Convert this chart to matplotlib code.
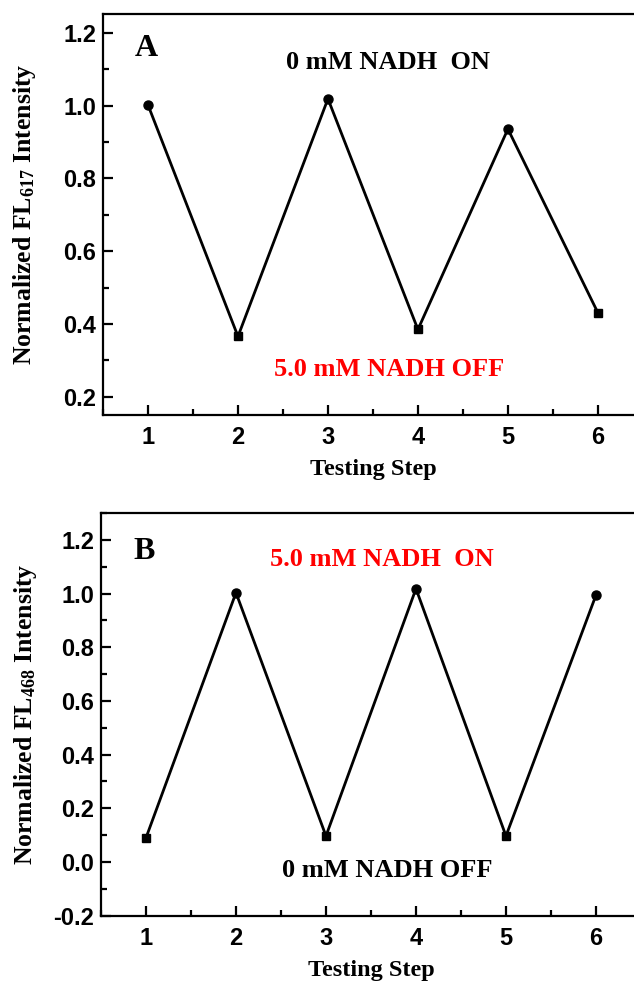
import numpy as np
import matplotlib
matplotlib.use("Agg")
import matplotlib.pyplot as plt
from matplotlib.ticker import MultipleLocator

steps = [1, 2, 3, 4, 5, 6]
fl617 = [1.002, 0.366, 1.019, 0.385, 0.936, 0.431]
fl468 = [0.090, 1.003, 0.097, 1.018, 0.097, 0.994]

plt.rcParams.update({
    "mathtext.fontset": "custom",
    "mathtext.rm": "Liberation Serif:bold",
    "mathtext.it": "Liberation Serif:italic:bold",
    "mathtext.bf": "Liberation Serif:bold",
    "axes.linewidth": 1.6,
    "axes.unicode_minus": False,
})

serif = dict(family="Liberation Serif", weight="bold")

fig = plt.figure(figsize=(6.34, 9.89), dpi=100)
axA = fig.add_axes([0.1625, 0.5804, 0.8515, 0.4054])
axB = fig.add_axes([0.1593, 0.0741, 0.8517, 0.4072])


def draw(ax, y, ylim, ymaj, letter, top_txt, top_col, bot_txt, bot_col, ylabel, top_xy, bot_xy):
    x = np.array(steps)
    y = np.array(y)
    ax.plot(x, y, color="black", lw=2.0, zorder=2)
    hi = y > 0.6
    ax.plot(x[hi], y[hi], "o", color="black", ms=6.5, zorder=3)
    ax.plot(x[~hi], y[~hi], "s", color="black", ms=5.5, zorder=3)
    ax.set_xlim(0.5, 6.5)
    ax.set_ylim(*ylim)
    ax.xaxis.set_major_locator(MultipleLocator(1))
    ax.xaxis.set_minor_locator(MultipleLocator(0.5))
    ax.yaxis.set_major_locator(MultipleLocator(ymaj))
    ax.yaxis.set_minor_locator(MultipleLocator(ymaj / 2))
    ax.tick_params(which="both", direction="in", top=False, right=False, width=1.6)
    ax.tick_params(which="major", length=7)
    ax.tick_params(which="minor", length=4)
    ax.tick_params(axis="x", pad=8)
    ax.tick_params(axis="y", pad=5)
    for lab in ax.get_xticklabels() + ax.get_yticklabels():
        lab.set_fontfamily("Liberation Sans")
        lab.set_fontweight("bold")
        lab.set_fontsize(17)
    ax.set_xlabel("Testing Step", fontsize=17.5, labelpad=7, **serif)
    ax.set_ylabel(ylabel, fontsize=18.5, **serif)
    # put both y labels at the same figure x (~25 px)
    left_px = ax.get_position().x0 * 634
    width_px = ax.get_position().width * 634
    ax.yaxis.set_label_coords((25 - left_px) / width_px, 0.5)
    ax.yaxis.label.set_va("center")
    ax.text(0.98, top_xy[2], letter, fontsize=23, ha="center", va="center", **serif)
    ax.text(top_xy[0], top_xy[1], top_txt, color=top_col, fontsize=19, ha="center", va="center", **serif)
    ax.text(bot_xy[0], bot_xy[1], bot_txt, color=bot_col, fontsize=19, ha="center", va="center", **serif)


draw(axA, fl617, (0.15, 1.252), 0.2, "A",
     "0 mM NADH  ON", "black", "5.0 mM NADH OFF", "red",
     "Normalized FL$_{617}$ Intensity", (3.67, 1.12, 1.156), (3.68, 0.274))
draw(axB, fl468, (-0.2, 1.30), 0.2, "B",
     "5.0 mM NADH  ON", "red", "0 mM NADH OFF", "black",
     "Normalized FL$_{468}$ Intensity", (3.62, 1.125, 1.155), (3.68, -0.031))

fig.savefig("out.png", dpi=100)
